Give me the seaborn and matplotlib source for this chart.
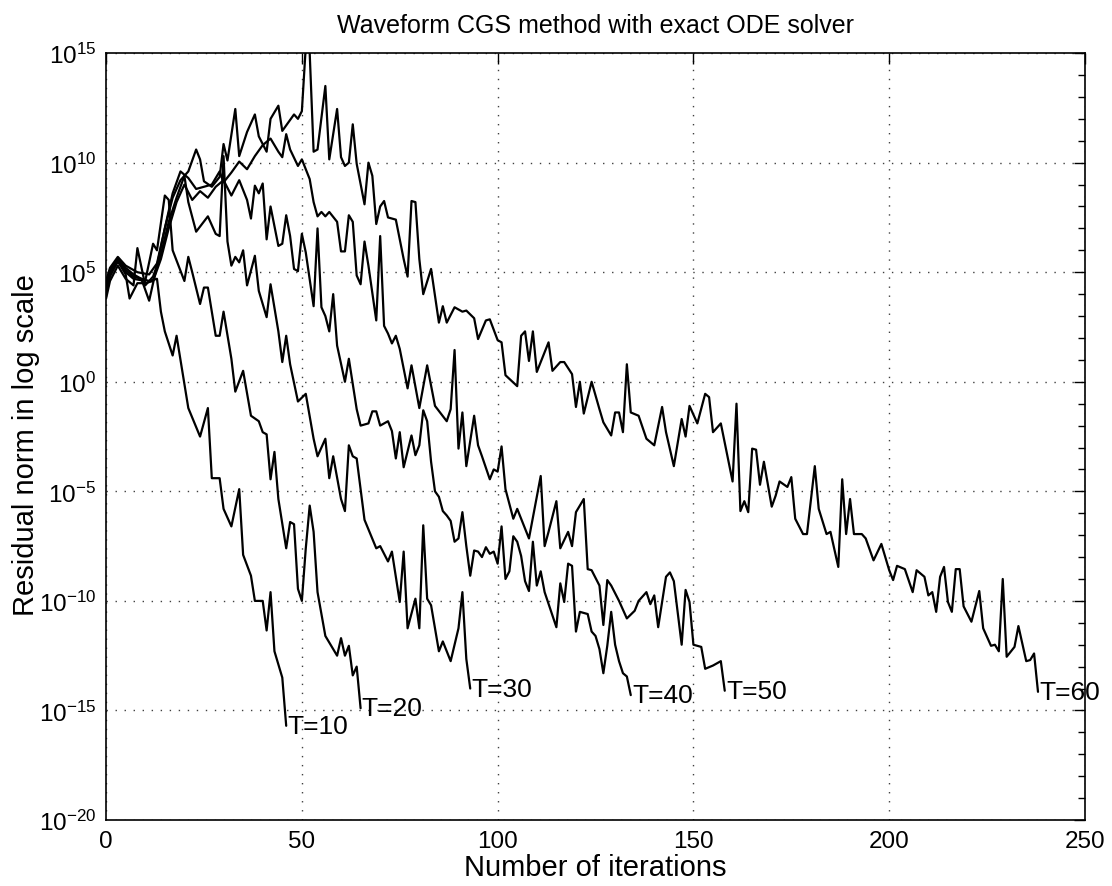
import numpy as np
import pandas as pd
import matplotlib
matplotlib.use("Agg")
import matplotlib.pyplot as plt
import seaborn as sns
from matplotlib.ticker import FixedLocator, FixedFormatter, NullFormatter

# ---------------- data (iteration, log10 of residual norm) ----------------
T10_iter = [0, 1, 3, 5, 7, 9, 11, 13, 14, 15, 17, 18, 21, 24, 26, 27, 29, 30, 32, 34,
            35, 37, 38, 40, 41, 42, 43, 45, 46]
T10_log = [4.3, 5.0, 5.6, 5.2, 4.9, 4.7, 4.6, 4.7, 3.2, 2.3, 1.2, 2.1, -1.2, -2.5, -1.2, -4.4, -4.4, -5.8, -6.6, -4.9,
           -7.9, -8.85, -10.0, -10.0, -11.35, -9.6, -12.3, -13.5, -15.7]

T20_iter = [0, 1, 3, 5, 7, 10, 12, 13, 15, 16, 17, 20, 21, 22, 24, 25, 26, 28, 29, 30,
            32, 33, 35, 37, 39, 40, 41, 42, 43, 44, 46, 47, 48, 49, 50, 51, 52, 53, 54, 56,
            59, 60, 61, 62, 63, 64, 65]
T20_log = [4.0, 4.9, 5.5, 5.0, 4.7, 4.6, 6.3, 6.0, 8.5, 8.3, 6.0, 4.6, 5.7, 5.0, 3.55, 4.3, 4.3, 2.1, 2.1, 3.2,
           1.05, -0.45, 0.5, -1.55, -1.8, -2.3, -2.4, -4.45, -3.2, -5.35, -7.6, -6.4, -6.5, -9.45, -10.0, -7.6, -5.65, -6.85, -9.6, -11.6,
           -12.5, -11.7, -12.5, -12.05, -13.4, -13.0, -14.9]

T30_iter = [0, 1, 3, 5, 7, 8, 10, 12, 14, 16, 18, 20, 21, 23, 26, 28, 29, 30, 31, 32,
            33, 34, 35, 36, 38, 39, 41, 42, 44, 45, 46, 47, 49, 51, 53, 54, 56, 57, 58, 60,
            61, 62, 63, 64, 66, 69, 70, 72, 73, 75, 76, 77, 79, 80, 81, 82, 83, 85, 86, 88,
            90, 91, 92, 93]
T30_log = [3.8, 4.6, 5.3, 4.7, 4.4, 6.1, 4.4, 4.8, 5.8, 7.3, 8.4, 9.4, 8.2, 6.85, 7.55, 6.75, 6.65, 10.3, 6.4, 5.3,
           5.7, 5.45, 6.0, 4.4, 5.75, 4.15, 2.95, 4.45, 2.3, 0.9, 2.1, 0.8, -0.9, -0.55, -2.6, -3.4, -2.6, -4.4, -3.4, -5.35,
           -5.9, -2.9, -3.4, -3.5, -6.3, -7.6, -7.5, -8.2, -7.75, -10.05, -7.75, -11.25, -9.9, -11.25, -6.55, -9.9, -10.2, -12.3, -11.85, -12.75,
           -11.25, -9.6, -12.65, -14.0]

T40_iter = [0, 1, 3, 5, 6, 8, 10, 12, 14, 16, 18, 20, 22, 24, 26, 28, 30, 32, 34, 36,
            37, 38, 39, 40, 41, 42, 44, 45, 46, 47, 48, 49, 50, 51, 53, 54, 55, 56, 57, 58,
            59, 61, 62, 64, 65, 67, 68, 69, 70, 72, 73, 74, 75, 76, 78, 79, 80, 81, 82, 83,
            84, 85, 86, 87, 88, 89, 90, 91, 92, 93, 94, 95, 96, 97, 98, 99, 100, 101, 102, 103,
            104, 105, 106, 107, 108, 109, 110, 111, 112, 115, 116, 117, 118, 119, 120, 121, 123, 124, 125, 126,
            127, 128, 129, 130, 131, 132, 133, 134]
T40_log = [4.1, 4.8, 5.5, 4.9, 3.8, 4.5, 4.5, 4.6, 5.6, 7.0, 8.2, 9.0, 8.3, 8.7, 8.4, 8.9, 9.2, 8.5, 9.2, 8.3,
           7.45, 8.95, 8.6, 9.05, 6.5, 8.0, 6.2, 6.3, 7.6, 6.65, 5.15, 5.05, 6.75, 5.9, 3.45, 7.0, 3.4, 3.0, 2.3, 4.0,
           1.65, 0.0, 1.05, -1.25, -2.0, -1.9, -1.35, -1.35, -2.0, -1.8, -2.25, -3.5, -2.3, -3.9, -2.45, -3.35, -2.9, -1.3, -1.8, -3.65,
           -5.0, -5.25, -5.9, -6.1, -6.35, -7.3, -7.15, -5.95, -7.5, -8.85, -7.7, -7.75, -8.0, -7.55, -7.85, -7.75, -8.3, -6.6, -9.0, -8.65,
           -7.05, -7.3, -7.95, -9.1, -9.55, -7.3, -9.3, -8.65, -9.6, -11.2, -9.2, -10.05, -8.3, -8.4, -11.4, -10.5, -10.6, -11.4, -11.6, -12.2,
           -13.3, -12.05, -10.5, -12.0, -12.75, -13.3, -13.45, -14.3]

T50_iter = [0, 1, 3, 5, 7, 9, 11, 13, 15, 17, 19, 21, 23, 25, 27, 29, 30, 32, 34, 36,
            38, 40, 42, 44, 45, 46, 47, 49, 50, 52, 53, 54, 55, 56, 57, 59, 60, 61, 62, 63,
            64, 65, 66, 67, 69, 70, 71, 72, 73, 74, 75, 76, 77, 78, 80, 82, 84, 87, 88, 89,
            90, 91, 92, 94, 95, 96, 98, 99, 100, 101, 102, 104, 105, 108, 111, 112, 113, 115, 116, 118,
            119, 120, 122, 123, 124, 126, 127, 128, 129, 131, 133, 135, 136, 138, 139, 140, 141, 143, 144, 145,
            147, 148, 149, 150, 152, 153, 155, 157, 158]
T50_log = [4.5, 5.1, 5.6, 5.1, 4.8, 4.7, 3.7, 5.3, 7.0, 8.6, 9.6, 9.3, 8.8, 8.9, 9.0, 9.6, 9.1, 9.55, 10.05, 9.7,
           10.3, 10.8, 11.1, 10.5, 10.25, 11.3, 10.6, 9.85, 10.15, 9.25, 8.2, 7.55, 7.75, 7.55, 7.75, 7.3, 5.95, 5.95, 7.6, 7.3,
           4.85, 4.45, 6.4, 5.3, 2.8, 6.65, 2.55, 2.2, 1.75, 2.1, 1.5, 0.6, -0.3, 0.75, -1.2, 0.75, -1.1, -1.8, -1.25, 1.45,
           -3.05, -1.4, -3.85, -1.55, -2.9, -3.4, -4.45, -4.0, -4.1, -2.95, -4.9, -6.25, -5.8, -7.15, -4.3, -7.5, -6.85, -5.45, -7.6, -6.85,
           -7.5, -5.95, -5.35, -8.55, -8.6, -9.3, -11.1, -9.05, -9.3, -10.0, -10.8, -10.45, -10.0, -9.6, -10.15, -9.75, -11.2, -8.9, -8.7, -9.1,
           -12.0, -9.5, -10.05, -12.0, -12.1, -13.1, -12.95, -12.75, -14.1]

T60_iter = [0, 1, 3, 5, 8, 11, 13, 15, 17, 19,
            21, 23, 24, 25, 27, 29, 30, 31, 33, 34,
            36, 38, 39, 41, 42, 44, 45, 48, 49, 50,
            51, 52, 53, 54, 56, 57, 59, 60, 61, 62,
            63, 64, 66, 67, 68, 69, 70, 71, 72, 74,
            76, 77, 78, 79, 80, 81, 83, 85, 86, 87,
            89, 91, 92, 94, 95, 97, 98, 100, 101, 102,
            105, 106, 107, 108, 109, 110, 113, 114, 116, 117,
            119, 120, 121, 122, 124, 126, 127, 129, 130, 131,
            132, 133, 134, 136, 138, 140, 142, 143, 145, 147,
            148, 149, 151, 153, 154, 155, 157, 160, 161, 162,
            163, 164, 165, 166, 167, 168, 170, 171, 172, 174,
            175, 176, 178, 179, 181, 182, 184, 185, 187, 188,
            189, 190, 191, 193, 194, 196, 198, 200, 201, 202,
            204, 206, 207, 209, 210, 211, 212, 213, 214, 215,
            216, 217, 218, 219, 221, 223, 224, 226, 227, 228,
            229, 230, 232, 233, 235, 236, 237, 238]
T60_log = [4.6, 5.2, 5.7, 5.3, 5.0, 4.9, 5.4, 7.0, 8.4, 9.2,
           9.6, 10.6, 10.15, 9.15, 8.9, 9.35, 10.85, 10.1, 12.45, 10.3,
           11.4, 12.2, 11.2, 10.5, 12.0, 12.6, 11.45, 12.2, 12.0, 12.35,
           15.3, 15.0, 10.5, 10.6, 13.5, 10.15, 12.45, 10.25, 9.85, 10.0,
           11.75, 9.95, 8.1, 10.0, 9.4, 7.2, 8.0, 8.25, 7.5, 7.4,
           5.6, 4.8, 8.25, 8.2, 5.6, 4.0, 5.15, 2.7, 3.45, 2.7,
           3.4, 3.2, 3.25, 2.9, 1.95, 2.8, 2.85, 1.9, 1.8, 0.3,
           -0.2, 2.1, 2.3, 0.95, 2.3, 0.45, 1.8, 0.5, 0.9, 0.9,
           0.35, -1.15, 0.0, -1.45, 0.0, -1.25, -1.85, -2.45, -1.4, -1.4,
           -2.3, 0.8, -1.4, -1.55, -2.6, -2.9, -1.15, -2.3, -3.85, -1.7,
           -2.5, -1.1, -1.9, -0.55, -0.7, -2.3, -1.9, -4.55, -1.0, -5.9,
           -5.45, -5.95, -3.05, -3.1, -4.7, -3.65, -5.7, -5.2, -4.55, -4.8,
           -4.35, -6.25, -6.95, -6.95, -3.85, -5.8, -6.95, -6.85, -8.45, -4.45,
           -6.95, -5.35, -6.95, -6.95, -7.15, -8.15, -7.4, -8.6, -9.05, -8.4,
           -8.55, -9.6, -8.6, -8.9, -9.75, -9.6, -10.5, -8.9, -8.45, -10.05,
           -10.5, -8.55, -8.55, -10.25, -10.95, -9.55, -11.25, -12.05, -12.0, -12.3,
           -9.0, -12.55, -12.1, -11.15, -12.75, -12.7, -12.4, -14.15]

T_values = [10, 20, 30, 40, 50, 60]
series_iter = [T10_iter, T20_iter, T30_iter, T40_iter, T50_iter, T60_iter]
series_log = [T10_log, T20_log, T30_log, T40_log, T50_log, T60_log]

x_ticks = [0, 50, 100, 150, 200, 250]
y_major_exp = [-20, -15, -10, -5, 0, 5, 10, 15]

title = "Waveform CGS method with exact ODE solver"
xlabel = "Number of iterations"
ylabel = "Residual norm in log scale"

# ---------------- build frame ----------------
frames = []
for T, it, lg in zip(T_values, series_iter, series_log):
    assert len(it) == len(lg), (T, len(it), len(lg))
    frames.append(pd.DataFrame({"iteration": it,
                                "residual": 10.0 ** np.asarray(lg),
                                "T": T}))
df = pd.concat(frames, ignore_index=True)

# ---------------- style ----------------
sns.set_theme(style="white")
plt.rcParams["font.family"] = ["Liberation Sans", "DejaVu Sans"]
plt.rcParams["mathtext.fontset"] = "custom"
plt.rcParams["mathtext.rm"] = "Liberation Sans"
plt.rcParams["mathtext.it"] = "Liberation Sans:italic"
plt.rcParams["mathtext.bf"] = "Liberation Sans:bold"
plt.rcParams["text.color"] = "black"
plt.rcParams["axes.labelcolor"] = "black"
plt.rcParams["xtick.color"] = "black"
plt.rcParams["ytick.color"] = "black"

fig = plt.figure(figsize=(11.12, 8.87), dpi=100)
ax = fig.add_axes([0.0954, 0.0744, 0.8803, 0.8646])

sns.lineplot(data=df, x="iteration", y="residual", units="T", estimator=None,
             sort=False, color="black", linewidth=1.6, ax=ax, legend=False)
ax.set_yscale("log")
ax.set_xlim(0, 250)
ax.set_ylim(1e-20, 1e15)

for T, it, lg in zip(T_values, series_iter, series_log):
    ax.text(it[-1] + 0.3, 10.0 ** lg[-1], f"T={T}", ha="left", va="center",
            fontsize=19, color="black")

ax.xaxis.set_major_locator(FixedLocator(x_ticks))
ax.yaxis.set_major_locator(FixedLocator([10.0 ** e for e in y_major_exp]))
ax.yaxis.set_major_formatter(FixedFormatter(
    [r"$\mathregular{10^{%d}}$" % e for e in y_major_exp]))
ax.yaxis.set_minor_locator(FixedLocator([10.0 ** e for e in range(-20, 16)]))
ax.yaxis.set_minor_formatter(NullFormatter())

ax.tick_params(which="both", direction="in", top=True, right=True,
               color="black", width=1.0)
ax.tick_params(which="major", length=8, labelsize=17.5, pad=7)
ax.tick_params(which="minor", length=5)

ax.grid(True, which="major", linestyle=(0, (1, 5.5)), color="0.25", linewidth=1.0)
for s in ax.spines.values():
    s.set_color("black")
    s.set_linewidth(1.2)

ax.set_title(title, fontsize=18, pad=15, color="black")
ax.set_xlabel(xlabel, fontsize=21)
ax.set_ylabel(ylabel, fontsize=21)
ax.xaxis.set_label_coords(0.5, -0.043)
ax.xaxis.label.set_va("top")
ax.yaxis.set_label_coords(-0.068, 0.49)

fig.savefig("out.png", dpi=100, facecolor="white")
